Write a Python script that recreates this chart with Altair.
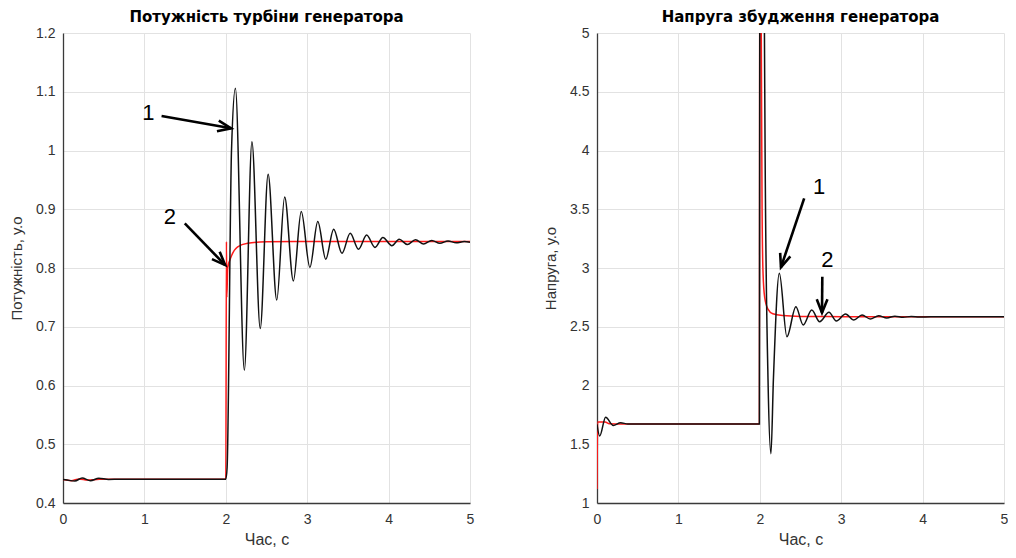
import math
import altair as alt
import pandas as pd

W, H = 407, 470
FONT = "Liberation Sans"

# ---------------- Left panel: turbine power ----------------
p_black_t = [0.0, 0.05, 0.146, 0.235, 0.337, 0.44, 0.56, 0.7, 1.0, 1.5, 2.0,
             2.016, 2.07, 2.118, 2.228, 2.321, 2.423, 2.52, 2.626, 2.723, 2.83,
             2.927, 3.033, 3.13, 3.228, 3.325, 3.427, 3.528, 3.63, 3.73, 3.833,
             3.93, 4.04, 4.13, 4.23, 4.33, 4.43, 4.53, 4.63, 4.73, 4.83, 4.93, 5.0]
p_black_v = [0.440, 0.439, 0.4375, 0.4425, 0.438, 0.442, 0.4402, 0.4405, 0.4405, 0.4405, 0.4405,
             0.46, 1.0, 1.106, 0.626, 1.015, 0.697, 0.9595, 0.7455, 0.921, 0.778,
             0.896, 0.801, 0.879, 0.815, 0.866, 0.825, 0.859, 0.832, 0.856, 0.835,
             0.852, 0.838, 0.849, 0.840, 0.848, 0.841, 0.847, 0.842, 0.846, 0.843, 0.845, 0.844]

p_red_t = [0.0, 0.1, 0.2, 0.3, 0.45, 1.0, 2.0, 2.008, 2.012, 2.024, 2.065,
           2.146, 2.268, 2.5, 3.0, 5.0]
p_red_v = [0.440, 0.438, 0.441, 0.439, 0.4405, 0.4405, 0.4405, 0.845, 0.75, 0.80, 0.819,
           0.836, 0.842, 0.8445, 0.845, 0.845]

# ---------------- Right panel: excitation voltage ----------------
u_black_t = [0.0, 0.033, 0.106, 0.2, 0.29, 0.38, 0.5, 1.0, 1.995,
             2.0, 2.03, 2.057, 2.065, 2.101, 2.137, 2.167, 2.24, 2.333, 2.443,
             2.533, 2.638, 2.735, 2.85, 2.94, 3.053, 3.155, 3.256, 3.357, 3.46,
             3.56, 3.66, 3.76, 3.86, 3.96, 4.1, 5.0]
u_black_v = [1.67, 1.57, 1.73, 1.66, 1.683, 1.672, 1.672, 1.672, 1.672,
             5.5, 7.0, 5.0, 4.0, 2.05, 1.42, 2.05, 2.955, 2.415, 2.67,
             2.515, 2.643, 2.543, 2.623, 2.55, 2.609, 2.557, 2.60, 2.566, 2.594,
             2.575, 2.59, 2.58, 2.588, 2.582, 2.586, 2.586]

u_red_t = [0.0, 0.008, 0.1, 0.15, 0.3, 1.0, 1.995, 2.0, 2.018, 2.028, 2.04,
           2.06, 2.1, 2.16, 2.28, 2.5, 3.0, 5.0]
u_red_v = [1.12, 1.69, 1.69, 1.675, 1.672, 1.672, 1.672, 6.5, 5.0, 3.5, 2.95,
           2.75, 2.65, 2.61, 2.595, 2.588, 2.586, 2.586]

x_ticks = [0, 1, 2, 3, 4, 5]
p_ticks = [0.4, 0.5, 0.6, 0.7, 0.8, 0.9, 1.0, 1.1, 1.2]
u_ticks = [1, 1.5, 2, 2.5, 3, 3.5, 4, 4.5, 5]

# annotations (labels and arrows, data units)
p_lbl_text = ["1", "2"]
p_lbl_t = [1.049, 1.314]
p_lbl_v = [1.064, 0.887]
p_arr_t0 = [1.211, 1.496]
p_arr_v0 = [1.0587, 0.876]
p_arr_t1 = [2.065, 1.992]
p_arr_v1 = [1.0378, 0.805]

u_lbl_text = ["1", "2"]
u_lbl_t = [2.728, 2.829]
u_lbl_v = [3.692, 3.068]
u_arr_t0 = [2.545, 2.768]
u_arr_v0 = [3.593, 2.926]
u_arr_t1 = [2.26, 2.764]
u_arr_v1 = [3.006, 2.62]


def axes(ydomain, yticks, ytitle):
    xax = alt.Axis(values=x_ticks, title="Час, с", format="~g", grid=True,
                   gridColor="#e2e2e2", domainColor="#3a3a3a", domainWidth=1.3,
                   ticks=False, tickSize=0, labelPadding=9, labelFont=FONT,
                   labelFontSize=14, labelColor="#333333", titleFont=FONT,
                   titleFontSize=16, titleFontWeight="normal", titleColor="#333333",
                   titlePadding=5, labelFlush=False)
    yax = alt.Axis(values=yticks, title=ytitle, format="~g", grid=True,
                   gridColor="#e2e2e2", domainColor="#3a3a3a", domainWidth=1.3,
                   ticks=False, tickSize=0, labelPadding=8, labelFont=FONT,
                   labelFontSize=14, labelColor="#333333", titleFont=FONT,
                   titleFontSize=15, titleFontWeight="normal", titleColor="#333333",
                   titlePadding=11, labelFlush=False)
    xs = alt.Scale(domain=[0, 5], nice=False, zero=False)
    ys = alt.Scale(domain=ydomain, nice=False, zero=False)
    return xax, yax, xs, ys


def panel(title, ydomain, yticks, ytitle, bt, bv, rt, rv,
          lt, lv, ltxt, a_t0, a_v0, a_t1, a_v1):
    xax, yax, xs, ys = axes(ydomain, yticks, ytitle)

    def X(f):
        return alt.X(f, type="quantitative", scale=xs, axis=xax)

    def Y(f):
        return alt.Y(f, type="quantitative", scale=ys, axis=yax)

    red = pd.DataFrame({"t": rt, "v": rv, "i": list(range(len(rt)))})
    black = pd.DataFrame({"t": bt, "v": bv, "i": list(range(len(bt)))})
    red_line = alt.Chart(red).mark_line(color="#ff1a1a", strokeWidth=1.5, clip=True,
                                        interpolate="monotone").encode(
        x=X("t"), y=Y("v"), order="i:Q")
    black_line = alt.Chart(black).mark_line(color="#111111", strokeWidth=1.5, clip=True,
                                            interpolate="monotone").encode(
        x=X("t"), y=Y("v"), order="i:Q")

    ys_span = ydomain[1] - ydomain[0]
    angles = []
    for t0, v0, t1, v1 in zip(a_t0, a_v0, a_t1, a_v1):
        dx = (t1 - t0) * W / 5.0
        dy = -(v1 - v0) * H / ys_span
        angles.append(math.degrees(math.atan2(dx, -dy)) % 360)
    arr = pd.DataFrame({"t": a_t0, "v": a_v0, "t2": a_t1, "v2": a_v1,
                        "th": a_t1, "vh": a_v1, "ang": angles})
    shafts = alt.Chart(arr).mark_rule(color="black", strokeWidth=2.6).encode(
        x=X("t"), y=Y("v"), x2="t2:Q", y2="v2:Q")
    heads = alt.Chart(arr).mark_point(
        shape="M-0.5,1.25L0,0L0.5,1.25", filled=False, color="black",
        strokeWidth=2.6, size=460, opacity=1).encode(
        x=X("th"), y=Y("vh"), angle=alt.Angle("ang:Q", scale=None))
    lbl = pd.DataFrame({"t": lt, "v": lv, "s": ltxt})
    labels = alt.Chart(lbl).mark_text(font=FONT, fontSize=22, color="black",
                                      align="center", baseline="middle").encode(
        x=X("t"), y=Y("v"), text="s:N")

    return alt.layer(red_line, black_line, shafts, heads, labels).properties(
        width=W, height=H,
        title=alt.Title(title, font="DejaVu Sans", fontSize=15, fontWeight="bold",
                        color="black", anchor="middle", offset=1))


left = panel("Потужність турбіни генератора", [0.4, 1.2], p_ticks, "Потужність, у.о",
             p_black_t, p_black_v, p_red_t, p_red_v,
             p_lbl_t, p_lbl_v, p_lbl_text, p_arr_t0, p_arr_v0, p_arr_t1, p_arr_v1)
right = panel("Напруга збудження генератора", [1, 5], u_ticks, "Напруга, у.о",
              u_black_t, u_black_v, u_red_t, u_red_v,
              u_lbl_t, u_lbl_v, u_lbl_text, u_arr_t0, u_arr_v0, u_arr_t1, u_arr_v1)

chart = alt.hconcat(left, right, spacing=127, bounds="flush").properties(
    padding={"left": 1, "top": 2, "right": 0, "bottom": 0},
    background="white"
).configure_view(stroke=None)

chart.save("out.html", embed_options={"renderer": "svg", "actions": False})
